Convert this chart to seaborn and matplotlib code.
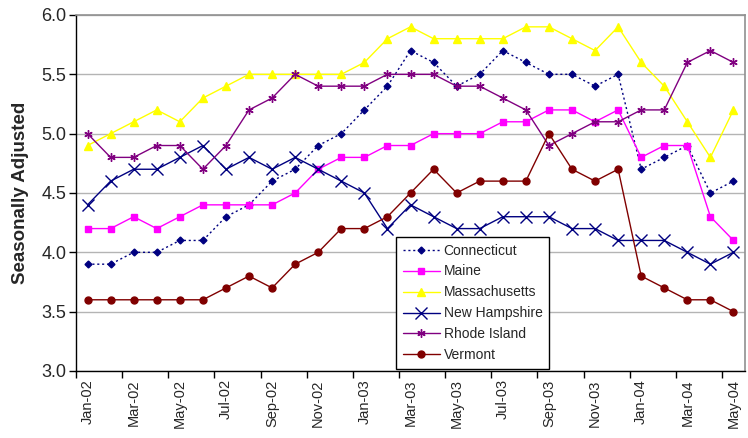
import matplotlib
matplotlib.use('Agg')
import matplotlib.pyplot as plt
import seaborn as sns
import pandas as pd
from matplotlib.ticker import FixedLocator

# --- DATA ---
months = ['Jan-02', 'Feb-02', 'Mar-02', 'Apr-02', 'May-02', 'Jun-02', 'Jul-02', 'Aug-02',
          'Sep-02', 'Oct-02', 'Nov-02', 'Dec-02', 'Jan-03', 'Feb-03', 'Mar-03', 'Apr-03',
          'May-03', 'Jun-03', 'Jul-03', 'Aug-03', 'Sep-03', 'Oct-03', 'Nov-03', 'Dec-03',
          'Jan-04', 'Feb-04', 'Mar-04', 'Apr-04', 'May-04']

connecticut = [3.9, 3.9, 4.0, 4.0, 4.1, 4.1, 4.3, 4.4, 4.6, 4.7, 4.9, 5.0, 5.2, 5.4, 5.7,
               5.6, 5.4, 5.5, 5.7, 5.6, 5.5, 5.5, 5.4, 5.5, 4.7, 4.8, 4.9, 4.5, 4.6]
maine = [4.2, 4.2, 4.3, 4.2, 4.3, 4.4, 4.4, 4.4, 4.4, 4.5, 4.7, 4.8, 4.8, 4.9, 4.9,
         5.0, 5.0, 5.0, 5.1, 5.1, 5.2, 5.2, 5.1, 5.2, 4.8, 4.9, 4.9, 4.3, 4.1]
massachusetts = [4.9, 5.0, 5.1, 5.2, 5.1, 5.3, 5.4, 5.5, 5.5, 5.5, 5.5, 5.5, 5.6, 5.8, 5.9,
                 5.8, 5.8, 5.8, 5.8, 5.9, 5.9, 5.8, 5.7, 5.9, 5.6, 5.4, 5.1, 4.8, 5.2]
new_hampshire = [4.4, 4.6, 4.7, 4.7, 4.8, 4.9, 4.7, 4.8, 4.7, 4.8, 4.7, 4.6, 4.5, 4.2, 4.4,
                 4.3, 4.2, 4.2, 4.3, 4.3, 4.3, 4.2, 4.2, 4.1, 4.1, 4.1, 4.0, 3.9, 4.0]
rhode_island = [5.0, 4.8, 4.8, 4.9, 4.9, 4.7, 4.9, 5.2, 5.3, 5.5, 5.4, 5.4, 5.4, 5.5, 5.5,
                5.5, 5.4, 5.4, 5.3, 5.2, 4.9, 5.0, 5.1, 5.1, 5.2, 5.2, 5.6, 5.7, 5.6]
vermont = [3.6, 3.6, 3.6, 3.6, 3.6, 3.6, 3.7, 3.8, 3.7, 3.9, 4.0, 4.2, 4.2, 4.3, 4.5,
           4.7, 4.5, 4.6, 4.6, 4.6, 5.0, 4.7, 4.6, 4.7, 3.8, 3.7, 3.6, 3.6, 3.5]

df = pd.DataFrame({
    'month': months,
    'idx': range(len(months)),
    'Connecticut': connecticut,
    'Maine': maine,
    'Massachusetts': massachusetts,
    'New Hampshire': new_hampshire,
    'Rhode Island': rhode_island,
    'Vermont': vermont,
})

# state -> (color, marker, markersize, linestyle)
styles = {
    'Connecticut': ('#000080', 'D', 3.5, (0, (1.5, 2))),
    'Maine': ('#FF00FF', 's', 5, '-'),
    'Massachusetts': ('#FFFF00', '^', 6, '-'),
    'New Hampshire': ('#000080', 'x', 8, '-'),
    'Rhode Island': ('#800080', (6, 2, 0), 6, '-'),
    'Vermont': ('#800000', 'o', 5, '-'),
}

sns.set_style('white')
plt.rcParams['font.family'] = ['Liberation Sans', 'DejaVu Sans']

fig = plt.figure(figsize=(7.48, 4.38), dpi=100)
ax = fig.add_axes([0.1016, 0.153, 0.8944, 0.8128])

for state, (color, marker, ms, ls) in styles.items():
    sns.lineplot(data=df, x='idx', y=state, ax=ax, color=color, marker=marker,
                 markersize=ms, linestyle=ls, linewidth=1.0, label=state,
                 markeredgecolor=color, markerfacecolor=color, markeredgewidth=1.0)

ax.set_xlim(-0.5, len(months) - 0.5)
ax.set_ylim(3.0, 6.0)

# y axis
ax.set_yticks([3.0, 3.5, 4.0, 4.5, 5.0, 5.5, 6.0])
ax.set_yticklabels([f'{v:.1f}' for v in [3.0, 3.5, 4.0, 4.5, 5.0, 5.5, 6.0]], fontsize=13)
ax.yaxis.grid(True, color='#b4b4b4', linewidth=1.0)
ax.set_axisbelow(True)
ax.set_ylabel('Seasonally Adjusted', fontsize=13.5, fontweight='bold', labelpad=9)
ax.tick_params(axis='y', direction='out', length=5, width=1, color='black', pad=2, left=True)

# x axis: labels every other month, tick marks at category boundaries
ax.set_xticks(list(range(0, len(months), 2)))
ax.set_xticklabels(months[::2], rotation=90, fontsize=10.5)
ax.xaxis.set_minor_locator(FixedLocator([i - 0.5 for i in range(0, len(months), 2)]))
ax.tick_params(axis='x', which='major', length=0, pad=6)
ax.tick_params(axis='x', which='minor', direction='out', length=5, width=1, color='black', bottom=True)
ax.set_xlabel('')

for side in ['left', 'bottom']:
    ax.spines[side].set_color('black')
    ax.spines[side].set_linewidth(1.0)
for side in ['top', 'right']:
    ax.spines[side].set_color('#909090')
    ax.spines[side].set_linewidth(1.2)

leg = ax.legend(loc='lower left', bbox_to_anchor=(0.479, 0.005), fontsize=10,
                frameon=True, fancybox=False, shadow=False, borderaxespad=0,
                handlelength=2.6, handletextpad=0.3, labelspacing=0.5, borderpad=0.5)
leg.get_frame().set_edgecolor('black')
leg.get_frame().set_linewidth(1.0)
leg.get_frame().set_alpha(1.0)

fig.savefig('out.png', dpi=100)
plt.close(fig)
